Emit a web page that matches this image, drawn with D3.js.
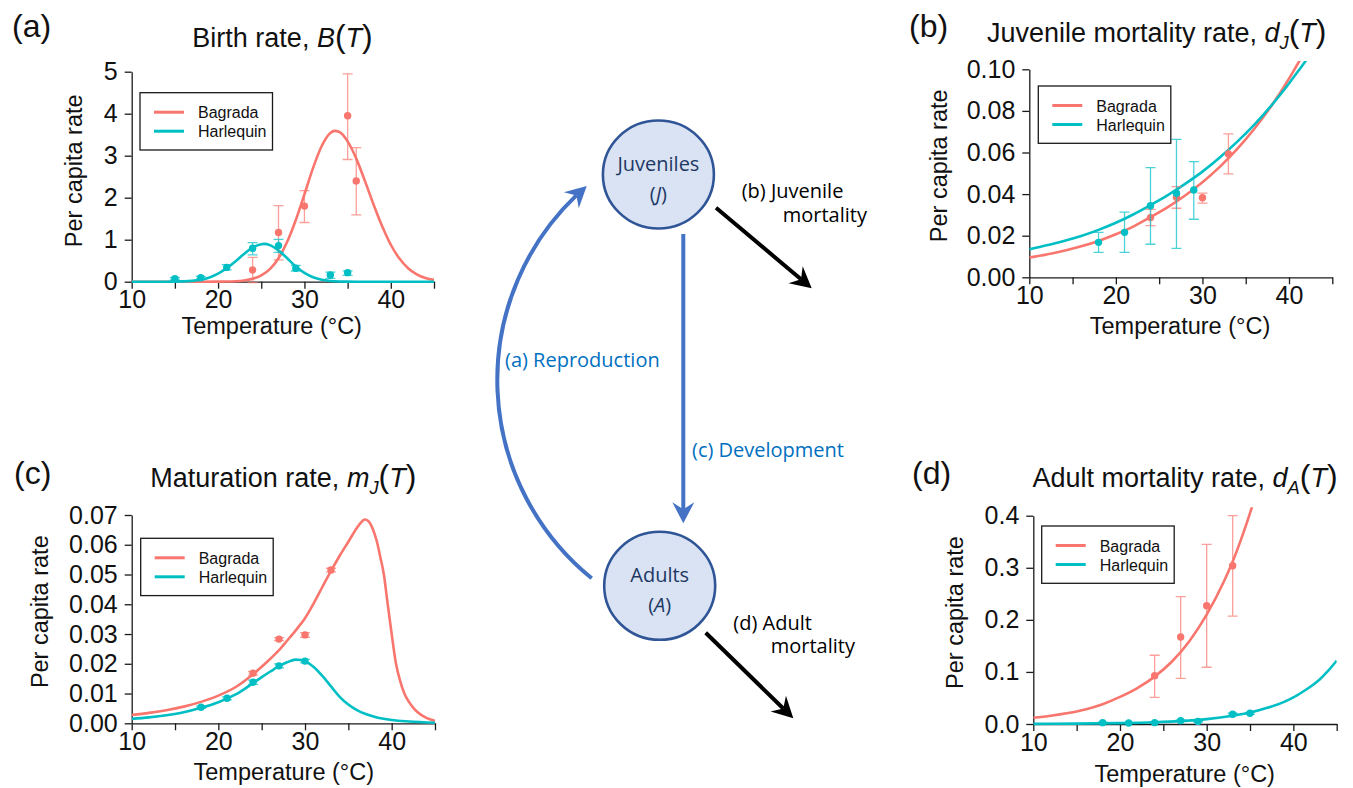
<!DOCTYPE html>
<html>
<head>
<meta charset="utf-8">
<script src="https://cdn.jsdelivr.net/npm/d3@7"></script>
<style>
  html, body { margin: 0; padding: 0; background: #fff; }
  svg { display: block; }
</style>
</head>
<body>
<svg id="fig" width="1353" height="788"></svg>
<script>
// ---------------- data ----------------
const speciesNames = ["Bagrada", "Harlequin"];
const speciesColors = ["#F8766D", "#00BFC4"];
const tempTicks = [10, 15, 20, 25, 30, 35, 40, 45];

// observations: [temperature, mean, lower, upper]
// (a) birth rate
const birthObsBagrada = [[24, 0.28, -0.02, 0.58], [27, 1.17, 0.52, 1.81], [30, 1.80, 1.41, 2.17], [35, 3.95, 2.91, 4.95], [36, 2.40, 1.59, 3.19]];
const birthObsHarlequin = [[15, 0.07, 0.04, 0.10], [18, 0.095, 0.065, 0.125], [21, 0.34, 0.28, 0.405], [24, 0.795, 0.64, 0.93], [27, 0.86, 0.70, 1.01], [29, 0.32, 0.255, 0.39], [33, 0.16, 0.08, 0.23], [35, 0.215, 0.15, 0.26]];
const birthFitBagrada = [[10, 0], [14, 0], [18, 0], [20, 0.001], [21, 0.004], [22, 0.011], [23, 0.029], [24, 0.069], [25, 0.15], [26, 0.30], [27, 0.56], [28, 0.95], [29, 1.47], [30, 2.08], [31, 2.71], [32, 3.23], [33, 3.54], [33.5, 3.59], [34, 3.57], [35, 3.34], [36, 2.93], [37, 2.40], [38, 1.84], [39, 1.32], [40, 0.88], [41, 0.55], [42, 0.32], [43, 0.175], [44, 0.09], [45, 0.043]];
const birthFitHarlequin = [[10, 0], [14, 0.0005], [15, 0.002], [16, 0.007], [17, 0.02], [18, 0.047], [19, 0.10], [20, 0.19], [21, 0.32], [22, 0.48], [23, 0.66], [24, 0.81], [25, 0.89], [25.3, 0.90], [26, 0.87], [27, 0.74], [28, 0.56], [29, 0.36], [30, 0.21], [31, 0.105], [32, 0.046], [33, 0.018], [34, 0.006], [35, 0.002], [36, 0.0005], [38, 0], [45, 0]];

// (b) juvenile mortality
const juvObsBagrada = [[24, 0.0287, 0.0248, 0.0327], [27, 0.0385, 0.0332, 0.0436], [30, 0.0383, 0.0357, 0.0405], [33, 0.0593, 0.0497, 0.0690]];
const juvObsHarlequin = [[18, 0.0168, 0.0120, 0.0216], [21, 0.0216, 0.0120, 0.0313], [24, 0.0344, 0.0159, 0.0527], [27, 0.0404, 0.0139, 0.0663], [29, 0.0420, 0.0279, 0.0556]];
const juvFitBagrada = [[10, 0.0095], [12, 0.0110], [14, 0.0128], [16, 0.0149], [18, 0.0175], [20, 0.0207], [22, 0.0244], [24, 0.0289], [26, 0.0337], [28, 0.0393], [30, 0.0457], [32, 0.0531], [34, 0.0616], [36, 0.0714], [38, 0.0826], [40, 0.0955], [41, 0.1026], [42, 0.1103]];
const juvFitHarlequin = [[10, 0.0135], [12, 0.0154], [14, 0.0175], [16, 0.0199], [18, 0.0228], [20, 0.0262], [22, 0.0302], [24, 0.0347], [26, 0.0395], [28, 0.0449], [30, 0.0508], [32, 0.0576], [34, 0.0651], [36, 0.0734], [38, 0.0828], [40, 0.0932], [41, 0.0988], [42, 0.1045], [43, 0.1108]];

// (c) maturation
const matObsBagrada = [[24, 0.0168, 0.0162, 0.0174], [27, 0.0283, 0.0278, 0.0288], [30, 0.0297, 0.0289, 0.0305], [33, 0.0515, 0.0509, 0.0521]];
const matObsHarlequin = [[18, 0.0054, 0.0050, 0.0058], [21, 0.0084, 0.0079, 0.0089], [24, 0.0138, 0.0131, 0.0145], [27, 0.0193, 0.0186, 0.0200], [30, 0.0209, 0.0203, 0.0215]];
const matFitBagrada = [[10, 0.0028], [12, 0.0035], [14, 0.0044], [16, 0.0056], [18, 0.0072], [20, 0.0093], [22, 0.0122], [24, 0.0165], [25, 0.0190], [26, 0.0217], [27, 0.0246], [28, 0.0280], [29, 0.0315], [30, 0.0353], [31, 0.0403], [32, 0.0458], [33, 0.0512], [34, 0.0563], [35, 0.0610], [36, 0.0657], [36.5, 0.0676], [36.9, 0.0685], [37.3, 0.0680], [37.8, 0.0655], [38.3, 0.0610], [38.7, 0.0557], [39.1, 0.0500], [39.5, 0.0410], [40, 0.0300], [40.5, 0.0200], [41, 0.0140], [41.5, 0.0098], [42, 0.0072], [42.5, 0.0052], [43, 0.0037], [44, 0.0018], [45, 0.0008]];
const matFitHarlequin = [[10, 0.0015], [12, 0.0020], [14, 0.0027], [16, 0.0037], [18, 0.0052], [20, 0.0071], [21, 0.0083], [22, 0.0097], [23, 0.0115], [24, 0.0135], [25, 0.0155], [26, 0.0174], [27, 0.0192], [28, 0.0206], [28.9, 0.0214], [29.5, 0.0213], [30, 0.0208], [31, 0.0189], [32, 0.0159], [33, 0.0124], [34, 0.0089], [35, 0.0063], [36, 0.0044], [37, 0.0031], [38, 0.0022], [40, 0.0011], [42, 0.0006], [45, 0.0002]];

// (d) adult mortality
const adultObsBagrada = [[24, 0.0928, 0.0512, 0.132], [27, 0.167, 0.0877, 0.2445], [30, 0.227, 0.109, 0.345], [33, 0.304, 0.207, 0.400]];
const adultObsHarlequin = [[18, 0.0026, 0.0016, 0.0036], [21, 0.0020, 0.0012, 0.0028], [24, 0.0026, 0.0016, 0.0036], [27, 0.0064, 0.0050, 0.0078], [29, 0.0050, 0.0038, 0.0062], [33, 0.0186, 0.0166, 0.0206], [35, 0.0205, 0.0185, 0.0225]];
const adultFitBagrada = [[10, 0.012], [12, 0.0158], [14, 0.021], [16, 0.028], [18, 0.038], [20, 0.052], [22, 0.069], [24, 0.091], [26, 0.120], [28, 0.159], [30, 0.210], [32, 0.274], [33, 0.312], [34, 0.356], [35, 0.405], [36, 0.460]];
const adultFitHarlequin = [[10, 0.0003], [15, 0.0007], [20, 0.0017], [24, 0.0033], [27, 0.0055], [30, 0.0093], [33, 0.0158], [35, 0.022], [37, 0.031], [39, 0.043], [40, 0.051], [41, 0.061], [42, 0.072], [43, 0.085], [44, 0.102], [45, 0.1216]];

// y-axis ticks per panel
const birthTicks = [0, 1, 2, 3, 4, 5];
const juvTicks = [0, 0.02, 0.04, 0.06, 0.08, 0.10];
const matTicks = [0, 0.01, 0.02, 0.03, 0.04, 0.05, 0.06, 0.07];
const adultTicks = [0, 0.1, 0.2, 0.3, 0.4];

// ---------------- drawing ----------------
const svg = d3.select("#fig");
svg.append("rect").attr("width", 1353).attr("height", 788).attr("fill", "#fff");
const defs = svg.append("defs");

const plotFont = "'Liberation Sans', Arial, Helvetica, sans-serif";
const diagFont = "'Open Sans', 'Noto Sans', sans-serif";
const axisColor = "#1a1a1a";

function addRichText(parent, x, y, parts, size, anchor) {
  const t = parent.append("text")
    .attr("x", x).attr("y", y)
    .attr("text-anchor", anchor || "middle")
    .attr("font-family", plotFont)
    .attr("font-size", size)
    .attr("fill", "#111");
  parts.forEach(p => {
    const s = t.append("tspan").text(p.t);
    if (p.i) s.attr("font-style", "italic");
    if (p.big) s.attr("font-size", size * 1.18);
    if (p.sub) s.attr("font-size", size * 0.68).attr("dy", size * 0.26);
    if (p.unsub) s.attr("dy", -size * 0.26);
  });
  return t;
}

function drawPanel(p) {
  const g = svg.append("g");
  const x = d3.scaleLinear().domain([10, 45]).range([p.left, p.right]);
  const y = d3.scaleLinear().domain([0, p.yMax]).range([p.bottom, p.top]);

  const clipId = "clip-" + p.id;
  defs.append("clipPath").attr("id", clipId).append("rect")
    .attr("x", x(10)).attr("y", y(p.yMax * 1.04))
    .attr("width", x(45) - x(10))
    .attr("height", y(0) - y(p.yMax * 1.04) + 2);

  // axes
  const xAxis = d3.axisBottom(x).tickValues(tempTicks)
    .tickSize(7).tickSizeOuter(0).tickPadding(2)
    .tickFormat(d => d % 10 === 0 ? d : "");
  const gx = g.append("g").attr("transform", `translate(0,${y(0)})`).call(xAxis);
  const yAxis = d3.axisLeft(y).tickValues(p.yTicks)
    .tickSize(7).tickSizeOuter(0).tickPadding(7)
    .tickFormat(d3.format(p.yFmt));
  const gy = g.append("g").attr("transform", `translate(${x(10)},0)`).call(yAxis);
  [gx, gy].forEach(a => {
    a.selectAll(".domain").attr("stroke", axisColor).attr("stroke-width", 1.3);
    a.selectAll(".tick line").attr("stroke", axisColor).attr("stroke-width", 1.3);
    a.selectAll(".tick text").attr("font-family", plotFont).attr("font-size", 25).attr("fill", "#111");
  });

  // fitted curves
  const line = d3.line().x(d => x(d[0])).y(d => y(d[1])).curve(d3.curveMonotoneX);
  const curves = g.append("g").attr("clip-path", `url(#${clipId})`);
  p.fits.forEach((f, i) => {
    curves.append("path").datum(f)
      .attr("d", line)
      .attr("fill", "none")
      .attr("stroke", speciesColors[i])
      .attr("stroke-width", 2.6);
  });

  // observations with error bars
  p.obs.forEach((o, i) => {
    const col = speciesColors[i];
    const og = g.append("g");
    o.forEach(d => {
      const bx = x(d[0]);
      og.append("path")
        .attr("d", `M${bx},${y(d[2])}V${y(d[3])}M${bx - 5},${y(d[2])}H${bx + 5}M${bx - 5},${y(d[3])}H${bx + 5}`)
        .attr("fill", "none").attr("stroke", col).attr("stroke-width", 1.3).attr("stroke-opacity", 0.7);
      og.append("circle").attr("cx", bx).attr("cy", y(d[1])).attr("r", 3.7).attr("fill", col);
    });
  });

  // legend
  const lg = g.append("g").attr("transform", `translate(${p.legend[0]},${p.legend[1]})`);
  lg.append("rect").attr("width", 132.5).attr("height", 57.3)
    .attr("fill", "#fff").attr("stroke", axisColor).attr("stroke-width", 1.3);
  speciesNames.forEach((n, i) => {
    const ry = 19.5 + i * 19;
    lg.append("line").attr("x1", 14).attr("x2", 44).attr("y1", ry).attr("y2", ry)
      .attr("stroke", speciesColors[i]).attr("stroke-width", 3);
    lg.append("text").attr("x", 58).attr("y", ry + 6).text(n)
      .attr("font-family", plotFont).attr("font-size", 16).attr("fill", "#111");
  });

  // titles and labels
  addRichText(g, p.titlePos[0], p.titlePos[1], p.title, 27);
  g.append("text").attr("x", p.labelPos[0]).attr("y", p.labelPos[1]).text(p.label)
    .attr("font-family", plotFont).attr("font-size", 32).attr("fill", "#111");
  g.append("text")
    .attr("transform", `translate(${p.yTitlePos[0]},${p.yTitlePos[1]}) rotate(-90)`)
    .attr("text-anchor", "middle").text("Per capita rate")
    .attr("font-family", plotFont).attr("font-size", 23.5).attr("fill", "#111");
  g.append("text").attr("x", p.xTitlePos[0]).attr("y", p.xTitlePos[1])
    .attr("text-anchor", "middle").text("Temperature (°C)")
    .attr("font-family", plotFont).attr("font-size", 23.5).attr("fill", "#111");
}

drawPanel({
  id: "a", left: 131.7, right: 434, top: 71.7, bottom: 281.7,
  yMax: 5, yTicks: birthTicks, yFmt: "d",
  fits: [birthFitBagrada, birthFitHarlequin], obs: [birthObsBagrada, birthObsHarlequin],
  legend: [140, 92.7],
  title: [{t: "Birth rate, "}, {t: "B", i: true}, {t: "(", big: true}, {t: "T", i: true}, {t: ")", big: true}],
  titlePos: [282.5, 46.7], label: "(a)", labelPos: [12, 36.6],
  yTitlePos: [81.5, 170.8], xTitlePos: [271.7, 334]
});

drawPanel({
  id: "b", left: 1029.3, right: 1332.3, top: 69.3, bottom: 277.3,
  yMax: 0.10, yTicks: juvTicks, yFmt: ".2f",
  fits: [juvFitBagrada, juvFitHarlequin], obs: [juvObsBagrada, juvObsHarlequin],
  legend: [1038.3, 86],
  title: [{t: "Juvenile mortality rate, "}, {t: "d", i: true}, {t: "J", i: true, sub: true}, {t: "(", big: true, unsub: true}, {t: "T", i: true}, {t: ")", big: true}],
  titlePos: [1156.7, 41.7], label: "(b)", labelPos: [909, 36.6],
  yTitlePos: [946.5, 165.8], xTitlePos: [1180, 333.5]
});

drawPanel({
  id: "c", left: 131.7, right: 435, top: 515, bottom: 723.3,
  yMax: 0.07, yTicks: matTicks, yFmt: ".2f",
  fits: [matFitBagrada, matFitHarlequin], obs: [matObsBagrada, matObsHarlequin],
  legend: [140.7, 538.3],
  title: [{t: "Maturation rate, "}, {t: "m", i: true}, {t: "J", i: true, sub: true}, {t: "(", big: true, unsub: true}, {t: "T", i: true}, {t: ")", big: true}],
  titlePos: [283.3, 486.7], label: "(c)", labelPos: [14, 484],
  yTitlePos: [48.2, 611.7], xTitlePos: [283.8, 780]
});

drawPanel({
  id: "d", left: 1033.3, right: 1336.7, top: 515.7, bottom: 724,
  yMax: 0.4, yTicks: adultTicks, yFmt: ".1f",
  fits: [adultFitBagrada, adultFitHarlequin], obs: [adultObsBagrada, adultObsHarlequin],
  legend: [1041.7, 526],
  title: [{t: "Adult mortality rate, "}, {t: "d", i: true}, {t: "A", i: true, sub: true}, {t: "(", big: true, unsub: true}, {t: "T", i: true}, {t: ")", big: true}],
  titlePos: [1185, 487], label: "(d)", labelPos: [912, 483.5],
  yTitlePos: [963, 612.5], xTitlePos: [1184.7, 781.7]
});

// ---------------- stage-structure diagram ----------------
const dg = svg.append("g");
const flowBlue = "#4472C4";

function arrowHead(tip, u, len, half, notch, color) {
  const n = [-u[1], u[0]];
  const bx = tip[0] - len * u[0], by = tip[1] - len * u[1];
  const pts = [
    tip,
    [bx + half * n[0], by + half * n[1]],
    [tip[0] - (len - notch) * u[0], tip[1] - (len - notch) * u[1]],
    [bx - half * n[0], by - half * n[1]]
  ];
  dg.append("path").attr("d", "M" + pts.map(p => p.join(",")).join("L") + "Z").attr("fill", color);
}

function straightArrow(from, tip, color, width) {
  const dx = tip[0] - from[0], dy = tip[1] - from[1];
  const L = Math.hypot(dx, dy);
  const u = [dx / L, dy / L];
  const end = [tip[0] - 14 * u[0], tip[1] - 14 * u[1]];
  dg.append("line").attr("x1", from[0]).attr("y1", from[1]).attr("x2", end[0]).attr("y2", end[1])
    .attr("stroke", color).attr("stroke-width", width);
  arrowHead(tip, u, 21, 11, 7, color);
}

// reproduction: arc from adults back up to juveniles
const arcC = [752.6, 380.1], arcR = 255.3;
const a0 = Math.atan2(578.3 - arcC[1], 591.7 - arcC[0]);
let aTip = Math.atan2(186 - arcC[1], 586.7 - arcC[0]);
if (aTip < a0) aTip += 2 * Math.PI;
const aEnd = aTip - 14 / arcR;
const pt = a => [arcC[0] + arcR * Math.cos(a), arcC[1] + arcR * Math.sin(a)];
const p0 = pt(a0), pe = pt(aEnd), ptip = pt(aTip);
dg.append("path")
  .attr("d", `M${p0[0]},${p0[1]}A${arcR},${arcR} 0 0 1 ${pe[0]},${pe[1]}`)
  .attr("fill", "none").attr("stroke", flowBlue).attr("stroke-width", 4);
const aMid = aTip - 10 / arcR;
arrowHead(ptip, [-Math.sin(aMid), Math.cos(aMid)], 21, 11, 7, flowBlue);

// development: juveniles down to adults
straightArrow([683.3, 234], [683.3, 523.3], flowBlue, 4);

// mortality arrows
straightArrow([716, 207.7], [811.7, 288.3], "#000", 4);
straightArrow([705.7, 632.7], [793.3, 718.3], "#000", 4);

// stage nodes
const stages = [
  {name: "Juveniles", sym: "J", cx: 658.4, cy: 174.5},
  {name: "Adults", sym: "A", cx: 659.7, cy: 585.8}
];
stages.forEach(s => {
  dg.append("ellipse").attr("cx", s.cx).attr("cy", s.cy).attr("rx", 55.5).attr("ry", 54)
    .attr("fill", "#DAE3F3").attr("stroke", "#2F5597").attr("stroke-width", 2.6);
  dg.append("text").attr("x", s.cx).attr("y", s.cy - 3.5).attr("text-anchor", "middle")
    .attr("font-family", diagFont).attr("font-size", 20).attr("fill", "#203864").text(s.name);
  const t = dg.append("text").attr("x", s.cx).attr("y", s.cy + 26).attr("text-anchor", "middle")
    .attr("font-family", diagFont).attr("font-size", 20).attr("fill", "#203864");
  t.append("tspan").text("(");
  t.append("tspan").attr("font-style", "italic").text(s.sym);
  t.append("tspan").text(")");
});

// flow labels
const flowLabels = [
  {lines: ["(a) Reproduction"], x: [505], y: [366.7], color: "#0070C0"},
  {lines: ["(c) Development"], x: [692], y: [456.7], color: "#0070C0"},
  {lines: ["(b) Juvenile", "mortality"], x: [741.7, 782.7], y: [198.3, 221.7], color: "#000"},
  {lines: ["(d) Adult", "mortality"], x: [733.3, 770.7], y: [630, 652.7], color: "#000"}
];
flowLabels.forEach(f => {
  f.lines.forEach((l, i) => {
    dg.append("text").attr("x", f.x[i]).attr("y", f.y[i]).text(l)
      .attr("font-family", diagFont).attr("font-size", 20).attr("fill", f.color);
  });
});
</script>
</body>
</html>
